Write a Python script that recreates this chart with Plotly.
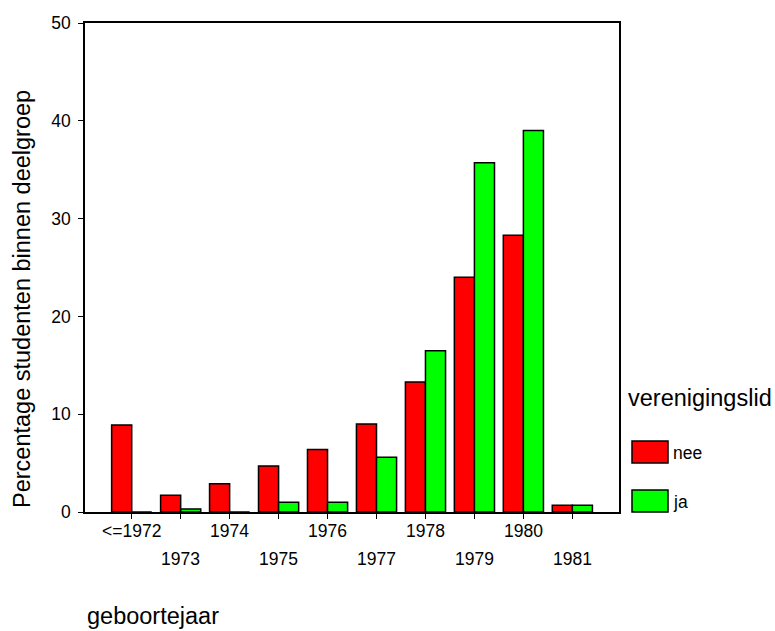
import plotly.graph_objects as go

categories = ["<=1972", "1973", "1974", "1975", "1976", "1977", "1978", "1979", "1980", "1981"]
nee_values = [8.9, 1.7, 2.9, 4.7, 6.4, 9.0, 13.3, 24.0, 28.3, 0.7]
ja_values = [0.0, 0.3, 0.0, 1.0, 1.0, 5.6, 16.5, 35.7, 39.0, 0.7]
y_ticks = [0, 10, 20, 30, 40, 50]
series_names = ["nee", "ja"]
series_colors = ["#FF0000", "#00FF00"]

W, H = 775, 631
L, R, T, B = 85, 619, 23, 512
FONT = "Liberation Sans, Arial, sans-serif"


def px(x):
    return (x - L) / (R - L)


def py(y):
    return (B - y) / (B - T)


fig = go.Figure()
for name, vals, col in zip(series_names, [nee_values, ja_values], series_colors):
    fig.add_trace(go.Bar(
        x=categories, y=vals, name=name,
        marker=dict(color=col, line=dict(color="black", width=1.5)),
        showlegend=False,
    ))

annotations = []
# x tick labels in two alternating rows
for i, lab in enumerate(categories):
    row_y = 531 if i % 2 == 0 else 559
    annotations.append(dict(
        x=i, xref="x", y=py(row_y), yref="paper", text=lab, showarrow=False,
        xanchor="center", yanchor="middle", font=dict(size=17.5, color="black", family=FONT),
    ))
# y title
annotations.append(dict(
    x=px(22), xref="paper", y=py(299), yref="paper", text="Percentage studenten binnen deelgroep",
    textangle=-90, showarrow=False, xanchor="center", yanchor="middle",
    font=dict(size=23.5, color="black", family=FONT),
))
# x title
annotations.append(dict(
    x=px(85), xref="paper", y=py(616), yref="paper", text="geboortejaar",
    showarrow=False, xanchor="left", yanchor="middle",
    font=dict(size=23.5, color="black", family=FONT),
))
# legend title
annotations.append(dict(
    x=px(626), xref="paper", y=py(398), yref="paper", text="verenigingslid",
    showarrow=False, xanchor="left", yanchor="middle",
    font=dict(size=23.5, color="black", family=FONT),
))

shapes = []
legend_rows = [(441, 463), (490, 512)]
for (y0, y1), name, col in zip(legend_rows, series_names, series_colors):
    shapes.append(dict(
        type="rect", xref="paper", yref="paper",
        x0=px(632), x1=px(668), y0=py(y1), y1=py(y0),
        fillcolor=col, line=dict(color="black", width=1.5),
    ))
    annotations.append(dict(
        x=px(671), xref="paper", y=py((y0 + y1) / 2 + 1), yref="paper", text=name,
        showarrow=False, xanchor="left", yanchor="middle",
        font=dict(size=17.5, color="black", family=FONT),
    ))

fig.update_layout(
    width=W, height=H,
    margin=dict(l=L, r=W - R, t=T, b=H - B, pad=0),
    paper_bgcolor="white", plot_bgcolor="white",
    barmode="group", bargap=0.18, bargroupgap=0,
    font=dict(family=FONT, color="black", size=17.5),
    annotations=annotations, shapes=shapes,
    showlegend=False,
)
fig.update_xaxes(
    type="category", range=[-0.954, 9.953],
    showline=True, linecolor="black", linewidth=1.5, mirror=True,
    ticks="outside", ticklen=5, tickcolor="black", tickwidth=1.2,
    showticklabels=False, showgrid=False, zeroline=False,
)
fig.update_yaxes(
    range=[0, 50], tickvals=y_ticks,
    showline=True, linecolor="black", linewidth=1.5, mirror=True,
    ticks="outside", ticklen=5, tickcolor="black", tickwidth=1.2,
    tickfont=dict(size=17.5, color="black", family=FONT), ticklabelstandoff=4,
    showgrid=False, zeroline=False,
)

fig.write_html(
    "out.html",
    config={"displayModeBar": False},
    post_script="document.body.style.margin='0';document.body.style.padding='0';",
)
